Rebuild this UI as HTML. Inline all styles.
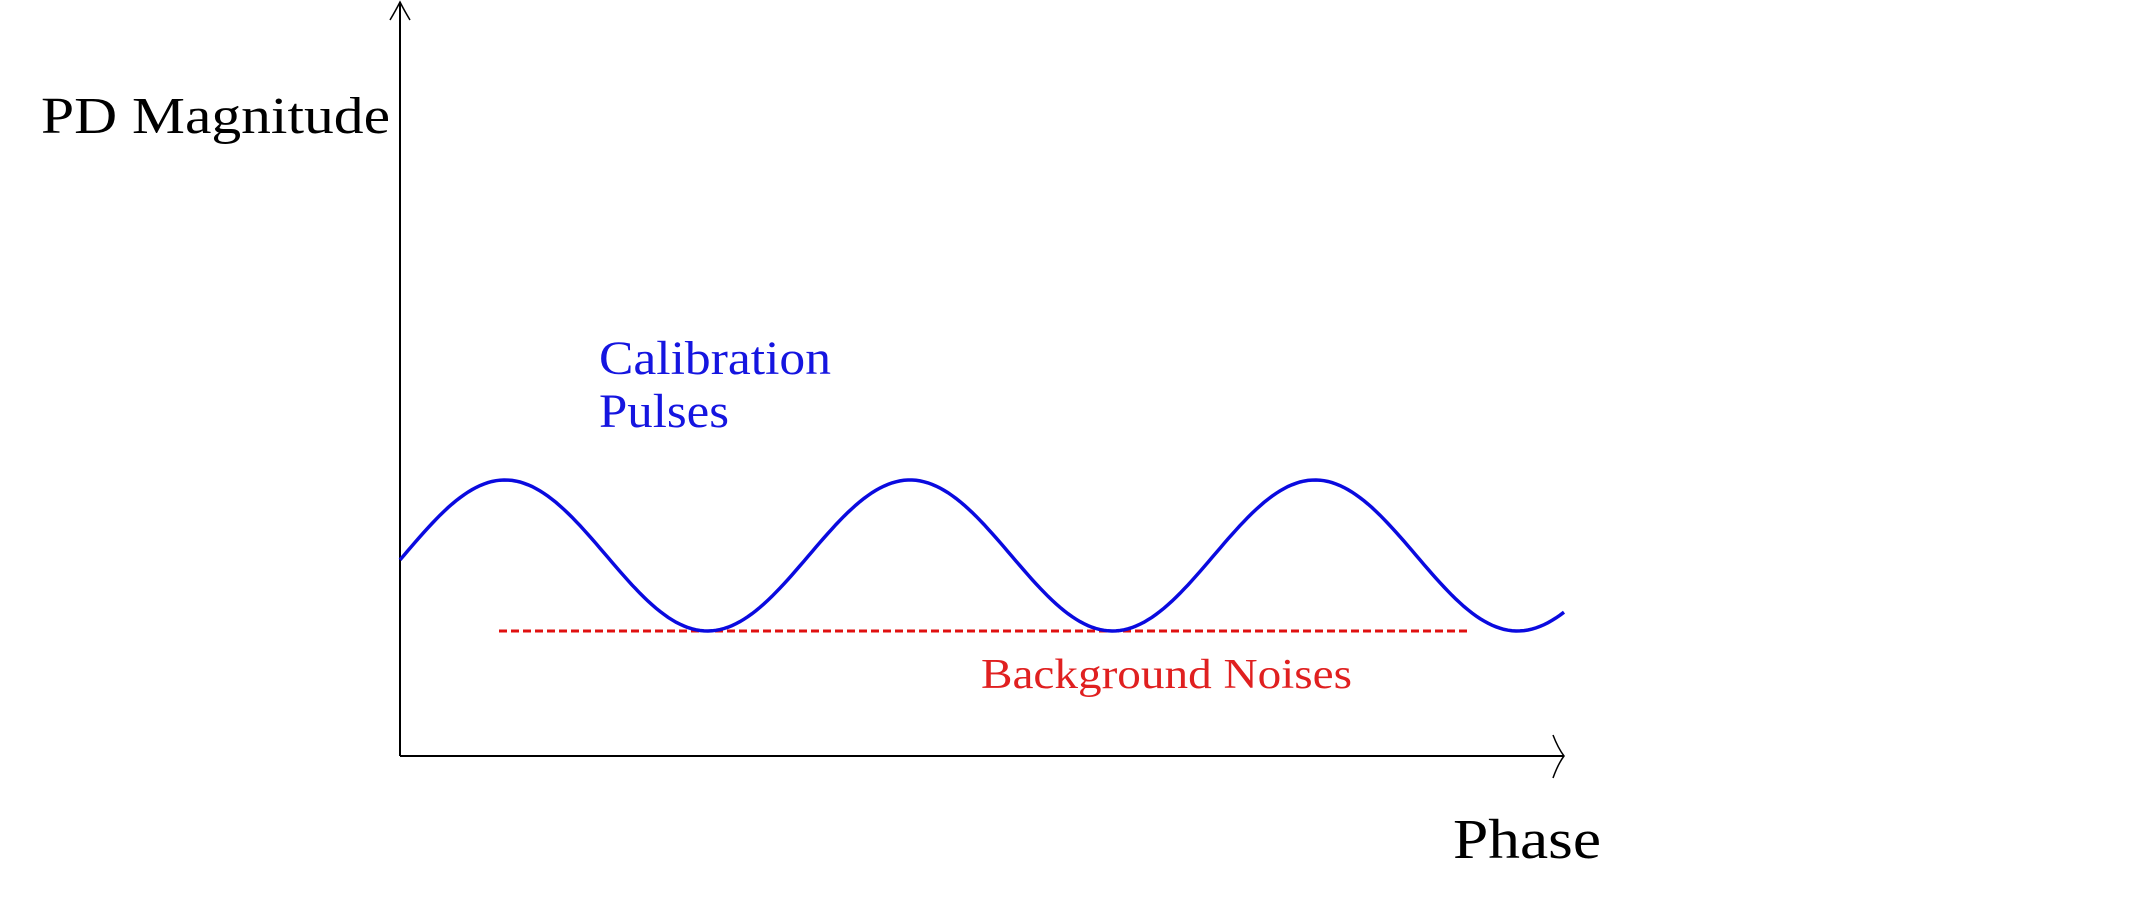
<!DOCTYPE html>
<html><head><meta charset="utf-8"><style>
html,body{margin:0;padding:0;background:#fff;}
svg{display:block;}
text{font-family:"Liberation Serif",serif;}
</style></head><body>
<svg id="s" width="2145" height="904" viewBox="0 0 2145 904">
<line x1="400" y1="2" x2="400" y2="756" stroke="#000" stroke-width="2"/>
<path d="M390,20 Q396,10 400,2 Q404,10 410,20" fill="none" stroke="#000" stroke-width="1.5"/>
<line x1="400" y1="756" x2="1564" y2="756" stroke="#000" stroke-width="2"/>
<path d="M1553,735 Q1558,748 1564,756 Q1558,764 1553,778" fill="none" stroke="#000" stroke-width="1.5"/>
<line x1="499" y1="631" x2="1468" y2="631" stroke="#e01010" stroke-width="3" stroke-dasharray="8,4"/>
<path id="w" fill="none" stroke="#0a0adf" stroke-width="3.5"/>
<text x="41" y="133" font-size="52" textLength="349" lengthAdjust="spacingAndGlyphs">PD Magnitude</text>
<text x="1453" y="858" font-size="56" textLength="148" lengthAdjust="spacingAndGlyphs">Phase</text>
<text x="599" y="374" font-size="48" fill="#1515e0" textLength="232" lengthAdjust="spacingAndGlyphs">Calibration</text>
<text x="599" y="427" font-size="48" fill="#1515e0" textLength="130" lengthAdjust="spacingAndGlyphs">Pulses</text>
<text x="981" y="688" font-size="42" fill="#e02020" textLength="371" lengthAdjust="spacingAndGlyphs">Background Noises</text>
</svg>
<script>
var d="";for(var x=400;x<=1564;x+=4){var y=555.5-75.5*Math.cos(2*Math.PI*(x-505)/405);d+=(x==400?"M":"L")+x+","+y.toFixed(1);}
document.getElementById("w").setAttribute("d",d);
</script>
</body></html>
